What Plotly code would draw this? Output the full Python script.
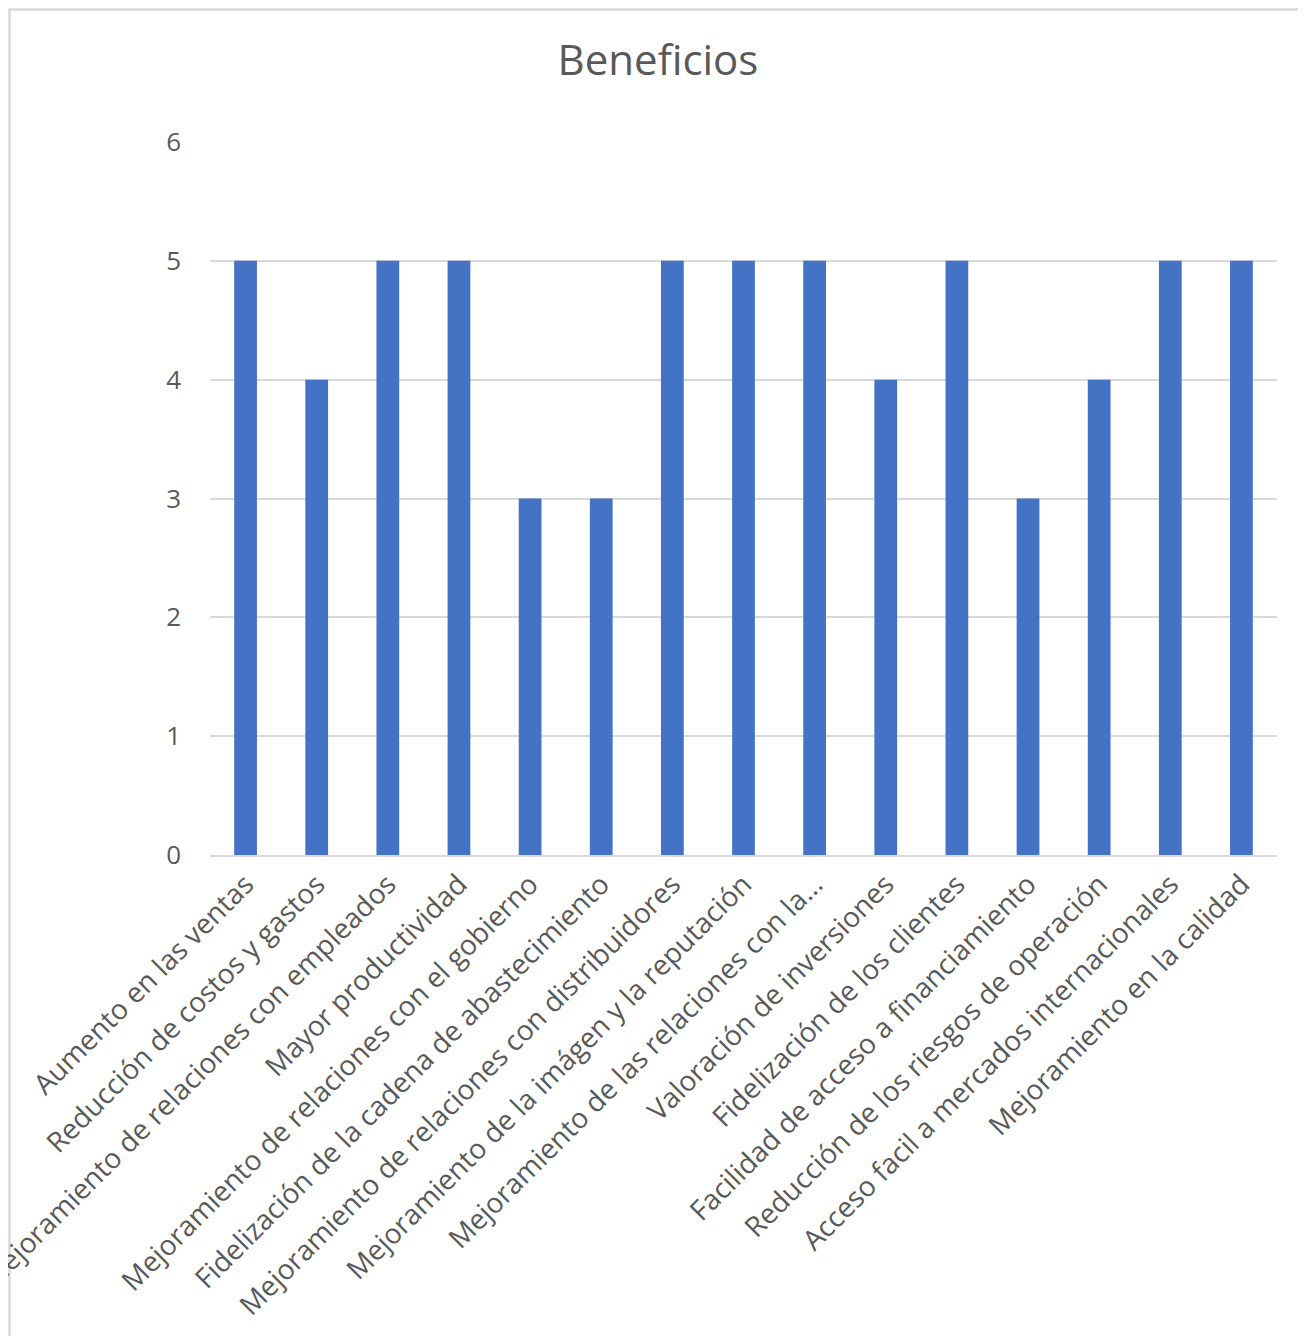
import plotly.graph_objects as go

categories = [
    "Aumento en las ventas",
    "Reducción de costos y gastos",
    "Mejoramiento de relaciones con empleados",
    "Mayor productividad",
    "Mejoramiento de relaciones con el gobierno",
    "Fidelización de la cadena de abastecimiento",
    "Mejoramiento de relaciones con distribuidores",
    "Mejoramiento de la imágen y la reputación",
    "Mejoramiento de las relaciones con la…",
    "Valoración de inversiones",
    "Fidelización de los clientes",
    "Facilidad de acceso a financiamiento",
    "Reducción de los riesgos de operación",
    "Acceso facil a mercados internacionales",
    "Mejoramiento en la calidad",
]
values = [5, 4, 5, 5, 3, 3, 5, 5, 5, 4, 5, 3, 4, 5, 5]
y_ticks = [0, 1, 2, 3, 4, 5, 6]

# page body adds an 8px offset; compensate so plot lands where the reference has it
OFF = 8
W, H = 1306, 1336
L, R, T, B = 210 - OFF, W - (1277 - OFF), 142 - OFF, H - (855 - OFF)
pw, ph = W - L - R, H - T - B

fig = go.Figure(go.Bar(x=categories, y=values, marker_color="#4472C4",
                       marker_line_width=0))

txt = "#595959"
fig.update_layout(
    width=W, height=H,
    margin=dict(l=L, r=R, t=T, b=B, autoexpand=False),
    paper_bgcolor="white", plot_bgcolor="white",
    bargap=0.68,
    showlegend=False,
    font=dict(family="Open Sans", color=txt),
    title=dict(text="Beneficios", x=(658 - OFF) / W, xref="container", xanchor="center",
               y=1 - (60 - OFF) / H, yref="container", yanchor="middle",
               font=dict(size=42, color=txt, family="Open Sans")),
    xaxis=dict(tickangle=-45, tickfont=dict(size=28, color=txt),
               showgrid=False, showline=True, linecolor="#d9d9d9", linewidth=1.5,
               ticks="", automargin=False),
    yaxis=dict(range=[0, 6], tickvals=y_ticks, tickfont=dict(size=26, color=txt),
               showgrid=True, gridcolor="#d9d9d9", gridwidth=1.5,
               zeroline=False, showline=False, ticks="", ticklabelstandoff=28,
               automargin=False),
)

# chart-area border (partially cropped on right/bottom like the reference)
fig.add_shape(type="rect", xref="paper", yref="paper",
              x0=(1.5 - L) / pw, x1=(W + 10 - L) / pw,
              y0=(H - B - (H + 10)) / ph, y1=(H - B - 1.5) / ph,
              line=dict(color="#d9d9d9", width=2.5), fillcolor="rgba(0,0,0,0)",
              layer="below")

fig.write_html("out.html")
